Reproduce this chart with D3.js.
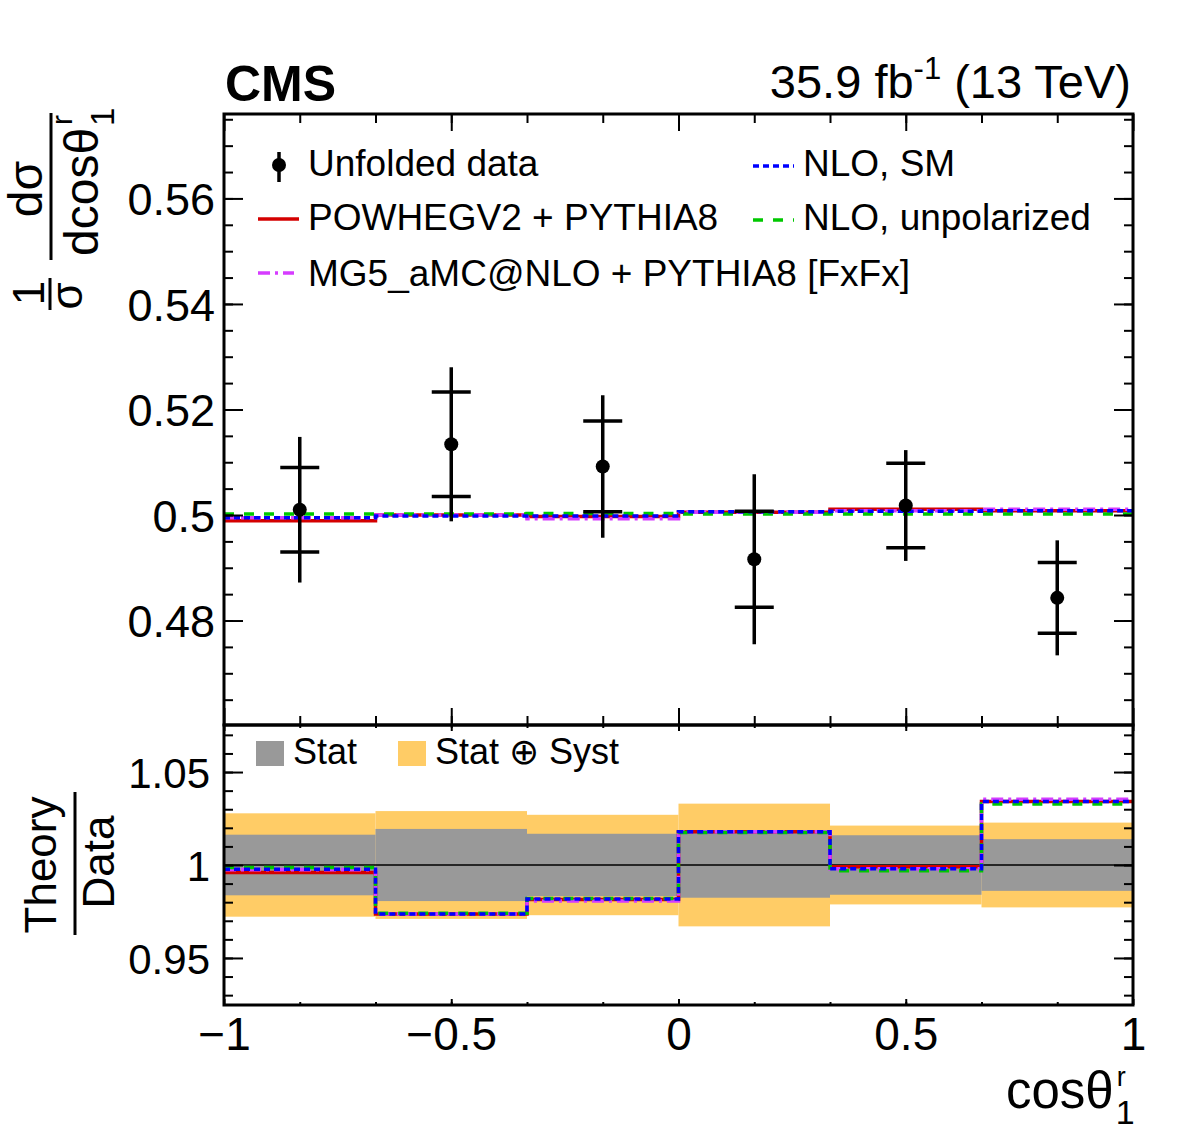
<!DOCTYPE html>
<html><head><meta charset="utf-8">
<script src="https://cdnjs.cloudflare.com/ajax/libs/d3/7.8.5/d3.min.js"></script>
<style>
body{margin:0;background:#fff;}
svg text{font-family:"Liberation Sans",Arial,Helvetica,sans-serif;fill:#000;}
</style></head>
<body><svg id="c" width="1182" height="1134"></svg>
<script>
// ---- data ----
const binEdges = [-1, -2/3, -1/3, 0, 1/3, 2/3, 1];
const binCenters = [-0.8333, -0.5, -0.1667, 0.1667, 0.5, 0.8333];
const dataVal = [0.5010, 0.5134, 0.5092, 0.4916, 0.5018, 0.4843];
const statErr = [0.0080, 0.0099, 0.0086, 0.0091, 0.0080, 0.0067];
const totErr  = [0.0138, 0.0146, 0.0135, 0.0161, 0.0105, 0.0109];
const powheg   = [0.4989, 0.5000, 0.4997, 0.5005, 0.5011, 0.5008];
const mg5      = [0.4995, 0.5000, 0.4993, 0.5005, 0.5008, 0.5011];
const nloSM    = [0.4995, 0.4998, 0.4998, 0.5006, 0.5007, 0.5008];
const nloUnpol = [0.5002, 0.5002, 0.5003, 0.5002, 0.5002, 0.5002];
const ratioPowheg = [0.9960, 0.9737, 0.9815, 1.0179, 0.9990, 1.0342];
const ratioMG5    = [0.9975, 0.9737, 0.9806, 1.0179, 0.9980, 1.0353];
const ratioNLOSM  = [0.9977, 0.9737, 0.9817, 1.0179, 0.9980, 1.0342];
const ratioNLOUnp = [0.9986, 0.9740, 0.9820, 1.0175, 0.9969, 1.0328];
const statRel = [0.0163, 0.0194, 0.0168, 0.0176, 0.0160, 0.0139];
const totRel  = [0.0278, 0.0290, 0.0270, 0.0330, 0.0212, 0.0228];
const xMajor = [-1, -0.5, 0, 0.5, 1];
const xMinor = [-5/6, -2/3, -1/2, -1/3, -1/6, 0, 1/6, 1/3, 1/2, 2/3, 5/6];
const yMajor = [0.48, 0.50, 0.52, 0.54, 0.56];
const yMajorLabels = ["0.48", "0.5", "0.52", "0.54", "0.56"];
const rMajor = [0.95, 1.0, 1.05];
const rMajorLabels = ["0.95", "1", "1.05"];
const xLabels = ["\u22121", "\u22120.5", "0", "0.5", "1"];

const series = [
  {name:"POWHEGV2 + PYTHIA8", up:powheg, ratio:ratioPowheg, color:"#d40000", dash:null},
  {name:"MG5_aMC@NLO + PYTHIA8 [FxFx]", up:mg5, ratio:ratioMG5, color:"#d63cff", dash:"12,5,3,5"},
  {name:"NLO, unpolarized", up:nloUnpol, ratio:ratioNLOUnp, color:"#00c800", dash:"10,10"},
  {name:"NLO, SM", up:nloSM, ratio:ratioNLOSM, color:"#0000ff", dash:"6,4"}
];

// ---- layout ----
const L = 224, R = 1133, T = 114, M = 725, B = 1005;
const x = d3.scaleLinear([-1, 1], [L, R]);
const yU = d3.scaleLinear([0.4602, 0.5760], [M, T]);
const yL = d3.scaleLinear([0.9247, 1.0753], [B, M]);
const svg = d3.select("#c");
const FONT = '"Liberation Sans",Arial,sans-serif';

function minorRange(lo, hi, step){ const a=[]; for(let v=lo; v<=hi+1e-9; v+=step) a.push(+v.toFixed(4)); return a; }

// ---- lower bands ----
const gL = svg.append("g");
gL.selectAll("rect.tot").data(binCenters).join("rect")
  .attr("x",(d,i)=>x(binEdges[i])).attr("width",(d,i)=>x(binEdges[i+1])-x(binEdges[i]))
  .attr("y",(d,i)=>yL(1+totRel[i])).attr("height",(d,i)=>yL(1-totRel[i])-yL(1+totRel[i]))
  .attr("fill","#ffcc66");
gL.selectAll("rect.stat").data(binCenters).join("rect")
  .attr("x",(d,i)=>x(binEdges[i])).attr("width",(d,i)=>x(binEdges[i+1])-x(binEdges[i]))
  .attr("y",(d,i)=>yL(1+statRel[i])).attr("height",(d,i)=>yL(1-statRel[i])-yL(1+statRel[i]))
  .attr("fill","#999999");
gL.append("line").attr("x1",L).attr("x2",R).attr("y1",yL(1)).attr("y2",yL(1))
  .attr("stroke","#000").attr("stroke-width",1.6);

function stepPath(vals, ys){
  const pts=[];
  vals.forEach((v,i)=>{ pts.push([x(binEdges[i]), ys(v)]); pts.push([x(binEdges[i+1]), ys(v)]); });
  return d3.line()(pts);
}
series.forEach(s=>{
  gL.append("path").attr("d",stepPath(s.ratio,yL)).attr("fill","none")
    .attr("stroke",s.color).attr("stroke-width",3.5).attr("stroke-dasharray",s.dash);
});

// ---- upper theory lines ----
const gU = svg.append("g");
series.forEach(s=>{
  gU.append("path").attr("d",stepPath(s.up,yU)).attr("fill","none")
    .attr("stroke",s.color).attr("stroke-width",3.5).attr("stroke-dasharray",s.dash);
});

// ---- data points ----
const pts = gU.selectAll("g.pt").data(binCenters).join("g");
pts.append("line").attr("x1",d=>x(d)).attr("x2",d=>x(d))
  .attr("y1",(d,i)=>yU(dataVal[i]+totErr[i])).attr("y2",(d,i)=>yU(dataVal[i]-totErr[i]))
  .attr("stroke","#000").attr("stroke-width",3.5);
[1,-1].forEach(sg=>{
  pts.append("line").attr("x1",d=>x(d)-19.5).attr("x2",d=>x(d)+19.5)
    .attr("y1",(d,i)=>yU(dataVal[i]+sg*statErr[i])).attr("y2",(d,i)=>yU(dataVal[i]+sg*statErr[i]))
    .attr("stroke","#000").attr("stroke-width",3.5);
});
pts.append("circle").attr("cx",d=>x(d)).attr("cy",(d,i)=>yU(dataVal[i])).attr("r",7).attr("fill","#000");

// ---- axes ----
function styleAxis(g){ g.select(".domain").remove(); g.selectAll("line").attr("stroke","#000").attr("stroke-width",2); g.selectAll("text").remove(); }
const yMinor = minorRange(0.465, 0.575, 0.005);
svg.append("g").attr("transform",`translate(${L},0)`).call(d3.axisRight(yU).tickValues(yMinor).tickSize(9)).call(styleAxis);
svg.append("g").attr("transform",`translate(${L},0)`).call(d3.axisRight(yU).tickValues(yMajor).tickSize(19)).call(styleAxis);
svg.append("g").attr("transform",`translate(${R},0)`).call(d3.axisLeft(yU).tickValues(yMinor).tickSize(9)).call(styleAxis);
svg.append("g").attr("transform",`translate(${R},0)`).call(d3.axisLeft(yU).tickValues(yMajor).tickSize(19)).call(styleAxis);
const yLab = svg.append("g").attr("transform",`translate(${L},0)`).call(d3.axisLeft(yU).tickValues(yMajor).tickSize(0).tickPadding(9).tickFormat((d,i)=>yMajorLabels[i]));
yLab.select(".domain").remove();
yLab.selectAll("text").style("font-size","45px").style("font-family",FONT).attr("dy","0.36em");

const rMinor = minorRange(0.93, 1.07, 0.01);
svg.append("g").attr("transform",`translate(${L},0)`).call(d3.axisRight(yL).tickValues(rMinor).tickSize(9)).call(styleAxis);
svg.append("g").attr("transform",`translate(${L},0)`).call(d3.axisRight(yL).tickValues(rMajor).tickSize(19)).call(styleAxis);
svg.append("g").attr("transform",`translate(${R},0)`).call(d3.axisLeft(yL).tickValues(rMinor).tickSize(9)).call(styleAxis);
svg.append("g").attr("transform",`translate(${R},0)`).call(d3.axisLeft(yL).tickValues(rMajor).tickSize(19)).call(styleAxis);
const rLab = svg.append("g").attr("transform",`translate(${L},0)`).call(d3.axisLeft(yL).tickValues(rMajor).tickSize(0).tickPadding(14).tickFormat((d,i)=>rMajorLabels[i]));
rLab.select(".domain").remove();
rLab.selectAll("text").style("font-size","42px").style("font-family",FONT).attr("dy","0.36em");

svg.append("g").attr("transform",`translate(0,${T})`).call(d3.axisBottom(x).tickValues(xMinor).tickSize(9)).call(styleAxis);
svg.append("g").attr("transform",`translate(0,${T})`).call(d3.axisBottom(x).tickValues(xMajor).tickSize(17)).call(styleAxis);
svg.append("g").attr("transform",`translate(0,${M})`).call(d3.axisTop(x).tickValues(xMinor).tickSize(9)).call(styleAxis);
svg.append("g").attr("transform",`translate(0,${M})`).call(d3.axisTop(x).tickValues(xMajor).tickSize(17)).call(styleAxis);
svg.append("g").attr("transform",`translate(0,${M})`).call(d3.axisBottom(x).tickValues(xMinor).tickSize(3)).call(styleAxis);
svg.append("g").attr("transform",`translate(0,${M})`).call(d3.axisBottom(x).tickValues(xMajor).tickSize(6)).call(styleAxis);
svg.append("g").attr("transform",`translate(0,${B})`).call(d3.axisTop(x).tickValues(xMinor).tickSize(3)).call(styleAxis);
svg.append("g").attr("transform",`translate(0,${B})`).call(d3.axisTop(x).tickValues(xMajor).tickSize(6)).call(styleAxis);
const xLab = svg.append("g").attr("transform",`translate(0,${B})`).call(d3.axisBottom(x).tickValues(xMajor).tickSize(0).tickPadding(12).tickFormat((d,i)=>xLabels[i]));
xLab.select(".domain").remove();
xLab.selectAll("text").style("font-size","46px").style("font-family",FONT).attr("dy","0.71em");

svg.append("rect").attr("x",L).attr("y",T).attr("width",R-L).attr("height",M-T).attr("fill","none").attr("stroke","#000").attr("stroke-width",3);
svg.append("rect").attr("x",L).attr("y",M).attr("width",R-L).attr("height",B-M).attr("fill","none").attr("stroke","#000").attr("stroke-width",3);

// ---- titles ----
svg.append("text").attr("x",225).attr("y",101).style("font-size","50px").style("font-weight","bold").text("CMS");
const lumi = svg.append("text").attr("x",1131).attr("y",98).attr("text-anchor","end").style("font-size","47px");
lumi.append("tspan").text("35.9 fb");
lumi.append("tspan").attr("dy",-19).style("font-size","31px").text("-1");
lumi.append("tspan").attr("dy",19).text(" (13 TeV)");

const xt = svg.append("text").attr("x",1006).attr("y",1108).style("font-size","51px").text("cos\u03b8");
const xtw = xt.node().getComputedTextLength();
svg.append("text").attr("x",1006+xtw+3).attr("y",1086).style("font-size","27px").text("r");
svg.append("text").attr("x",1006+xtw+2).attr("y",1124).style("font-size","34px").text("1");

const yt = svg.append("g").attr("transform","rotate(-90)");
yt.append("text").attr("x",-293).attr("y",44).attr("text-anchor","middle").style("font-size","44px").text("1");
yt.append("line").attr("x1",-310).attr("x2",-278).attr("y1",50).attr("y2",50).attr("stroke","#000").attr("stroke-width",3);
yt.append("text").attr("x",-296).attr("y",82).attr("text-anchor","middle").style("font-size","44px").text("\u03c3");
yt.append("text").attr("x",-189).attr("y",42).attr("text-anchor","middle").style("font-size","48px").text("d\u03c3");
yt.append("line").attr("x1",-260).attr("x2",-113).attr("y1",51).attr("y2",51).attr("stroke","#000").attr("stroke-width",3);
const dcos = yt.append("text").attr("x",-256).attr("y",98).style("font-size","48px").text("dcos\u03b8");
const dcw = dcos.node().getComputedTextLength();
yt.append("text").attr("x",-256+dcw+3).attr("y",72).style("font-size","30px").text("r");
yt.append("text").attr("x",-256+dcw+2).attr("y",114).style("font-size","33px").text("1");

const rt = svg.append("g").attr("transform","rotate(-90)");
rt.append("text").attr("x",-865).attr("y",56).attr("text-anchor","middle").style("font-size","44px").text("Theory");
rt.append("line").attr("x1",-935).attr("x2",-792).attr("y1",75).attr("y2",75).attr("stroke","#000").attr("stroke-width",3);
rt.append("text").attr("x",-862).attr("y",114).attr("text-anchor","middle").style("font-size","44px").text("Data");

// ---- legends ----
const lg = svg.append("g");
lg.append("line").attr("x1",279).attr("x2",279).attr("y1",152).attr("y2",182).attr("stroke","#000").attr("stroke-width",3.5);
lg.append("circle").attr("cx",279).attr("cy",165).attr("r",7).attr("fill","#000");
lg.append("text").attr("x",308).attr("y",176).style("font-size","37px").text("Unfolded data");
const legItems = [
  {s:series[0], x1:258, x2:299, y:219, tx:308, ty:230},
  {s:series[1], x1:258, x2:294, y:273, tx:308, ty:286},
  {s:series[3], x1:753, x2:794, y:166, tx:803, ty:176},
  {s:series[2], x1:753, x2:794, y:220, tx:803, ty:230}
];
legItems.forEach(it=>{
  lg.append("line").attr("x1",it.x1).attr("x2",it.x2).attr("y1",it.y).attr("y2",it.y)
    .attr("stroke",it.s.color).attr("stroke-width",3.5).attr("stroke-dasharray",it.s.dash);
  lg.append("text").attr("x",it.tx).attr("y",it.ty).style("font-size","37px").text(it.s.name);
});
lg.append("rect").attr("x",256).attr("y",741).attr("width",28).attr("height",25).attr("fill","#999999");
lg.append("text").attr("x",293).attr("y",764).style("font-size","36px").text("Stat");
lg.append("rect").attr("x",398).attr("y",741).attr("width",28).attr("height",25).attr("fill","#ffcc66");
lg.append("text").attr("x",435).attr("y",764).style("font-size","36px").text("Stat \u2295 Syst");
</script></body></html>
